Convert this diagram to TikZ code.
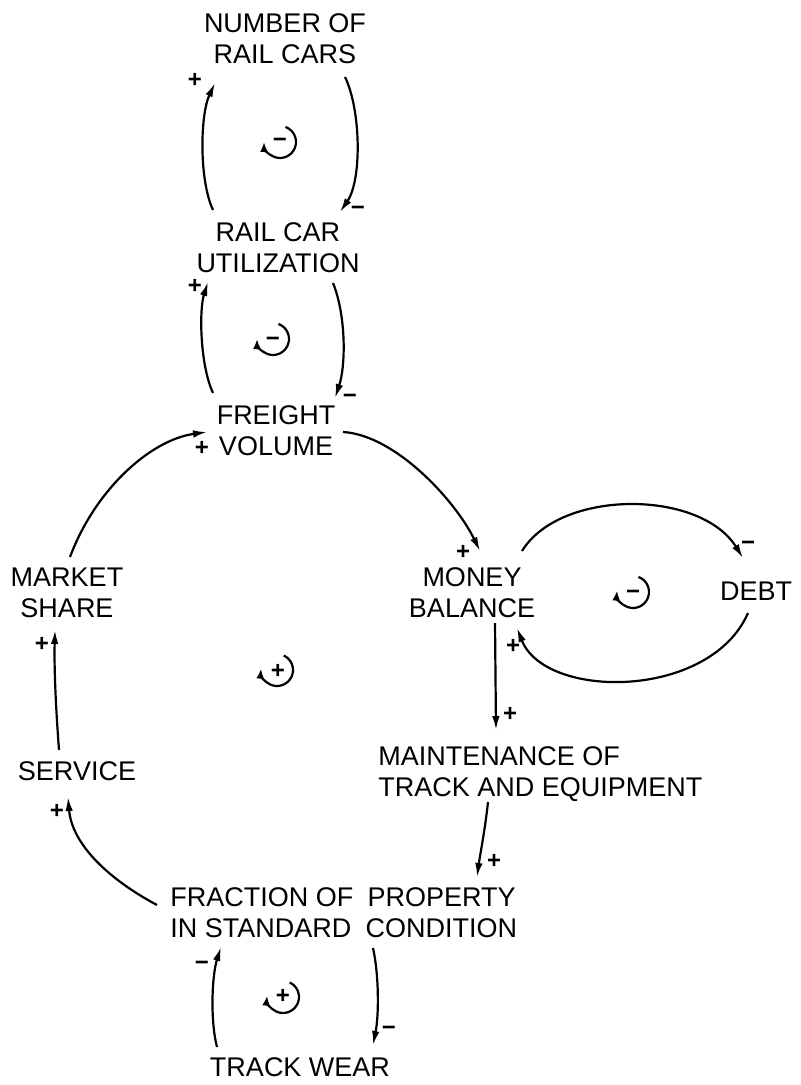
\documentclass[tikz,border=0pt]{standalone}
\usepackage{fontspec}
\setmainfont{Liberation Sans}
\usetikzlibrary{arrows.meta}
\begin{document}
\begin{tikzpicture}[x=0.5pt,y=-0.5pt,
  lbl/.style={inner sep=0pt, align=center, font=\fontsize{13.5}{15.5}\selectfont},
  arr/.style={line width=1.1pt, -{Latex[length=7pt,width=3.8pt]}},
  sgn/.style={inner sep=0pt, anchor=base, font=\fontsize{12}{12}\selectfont\bfseries},
  loopsym/.style={line width=1.1pt, -{Latex[length=5pt,width=4pt]}}
]
\useasboundingbox (0,0) rectangle (800,1085);

% variables
\node[lbl] (ncars) at (285,39) {NUMBER OF\\RAIL CARS};
\node[lbl] (util) at (278,248) {RAIL CAR\\UTILIZATION};
\node[lbl] (freight) at (276,431) {FREIGHT\\VOLUME};
\node[lbl] (money) at (472,592.5) {MONEY\\BALANCE};
\node[lbl] (debt) at (756,591) {DEBT};
\node[lbl] (market) at (67,592.5) {MARKET\\SHARE};
\node[lbl] (service) at (77,771.5) {SERVICE};
\node[lbl, align=left, anchor=west] (maint) at (378,774.5) {MAINTENANCE OF\\TRACK AND EQUIPMENT};
\node[lbl, align=left, anchor=west] (fraction) at (170,912.5) {FRACTION OF\hspace{0.25em} PROPERTY\\IN STANDARD\hspace{0.25em} CONDITION};
\node[lbl] (wear) at (300,1067.5) {TRACK WEAR};

% links
\draw[arr] ([shift={(-65,-38)}]util.center) .. controls (199,180) and (200,115) .. ([shift={(-70,44)}]ncars.center);
\draw[arr] ([shift={(60,38)}]ncars.center) .. controls (361,110) and (362,180) .. ([shift={(62,-36)}]util.center);
\draw[arr] ([shift={(-63,-38)}]freight.center) .. controls (200,365) and (199,310) .. ([shift={(-70,34)}]util.center);
\draw[arr] ([shift={(55,35)}]util.center) .. controls (346,315) and (346,365) .. ([shift={(59,-33)}]freight.center);
\draw[arr] ([shift={(3,-35.5)}]market.center) .. controls (95,490) and (150,440) .. ([shift={(-69,1)}]freight.center);
\draw[arr] ([shift={(67,1)}]freight.center) .. controls (395,435) and (455,500) .. ([shift={(8,-41.5)}]money.center);
\draw[arr] ([shift={(50,-41.5)}]money.center) .. controls (560,489) and (700,489) .. ([shift={(-13,-33)}]debt.center);
\draw[arr] ([shift={(-8,22)}]debt.center) .. controls (710,700) and (545,700) .. ([shift={(45,35.5)}]money.center);
\draw[arr] ([shift={(23,30.5)}]money.center) -- ([shift={(118,-44.5)}]maint.west);
\draw[arr] ([shift={(110,27.5)}]maint.west) .. controls (485,830) and (480,855) .. ([shift={(307,-35.5)}]fraction.west);
\draw[arr] ([shift={(-13,-7.5)}]fraction.west) .. controls (110,880) and (72,845) .. ([shift={(-9,25.5)}]service.center);
\draw[arr] ([shift={(-18,-21.5)}]service.center) .. controls (56,710) and (54,670) .. ([shift={(-12,37.5)}]market.center);
\draw[arr] ([shift={(-83,-20.5)}]wear.center) .. controls (210,1020) and (212,975) .. ([shift={(51,34.5)}]fraction.west);
\draw[arr] ([shift={(203,35.5)}]fraction.west) .. controls (379,975) and (379,1015) .. ([shift={(73,-22.5)}]wear.center);

% polarities (base placed so that the sign's centre lands on the given point)
\node[sgn] (p1) at (195,88) {+};
\node[sgn] (p2) at (358,216) {−};
\node[sgn] (p3) at (195,293) {+};
\node[sgn] (p4) at (350,403) {−};
\node[sgn] (p5) at (202,455) {+};
\node[sgn] (p6) at (463,559) {+};
\node[sgn] (p7) at (748,550) {−};
\node[sgn] (p8) at (513,653) {+};
\node[sgn] (p9) at (510,721) {+};
\node[sgn] (p10) at (494,868) {+};
\node[sgn] (p11) at (57,818) {+};
\node[sgn] (p12) at (42,651) {+};
\node[sgn] (p13) at (202,970) {−};
\node[sgn] (p14) at (389,1035) {−};

% loop symbols
\draw[loopsym] (280,142) ++(-70:16) arc[start angle=-70, end angle=180, radius=16];
\node[sgn] (l1) at (280,148) {−};
\draw[loopsym] (273,339) ++(-70:16) arc[start angle=-70, end angle=180, radius=16];
\node[sgn] (l2) at (273,346) {−};
\draw[loopsym] (633,592) ++(-70:16) arc[start angle=-70, end angle=185, radius=16];
\node[sgn] (l3) at (633,599) {−};
\draw[loopsym] (277,670) ++(-65:16) arc[start angle=-65, end angle=185, radius=16];
\node[sgn] (l4) at (278,678) {+};
\draw[loopsym] (283,997) ++(-65:16) arc[start angle=-65, end angle=185, radius=16];
\node[sgn] (l5) at (283,1003) {+};
\end{tikzpicture}
\end{document}
